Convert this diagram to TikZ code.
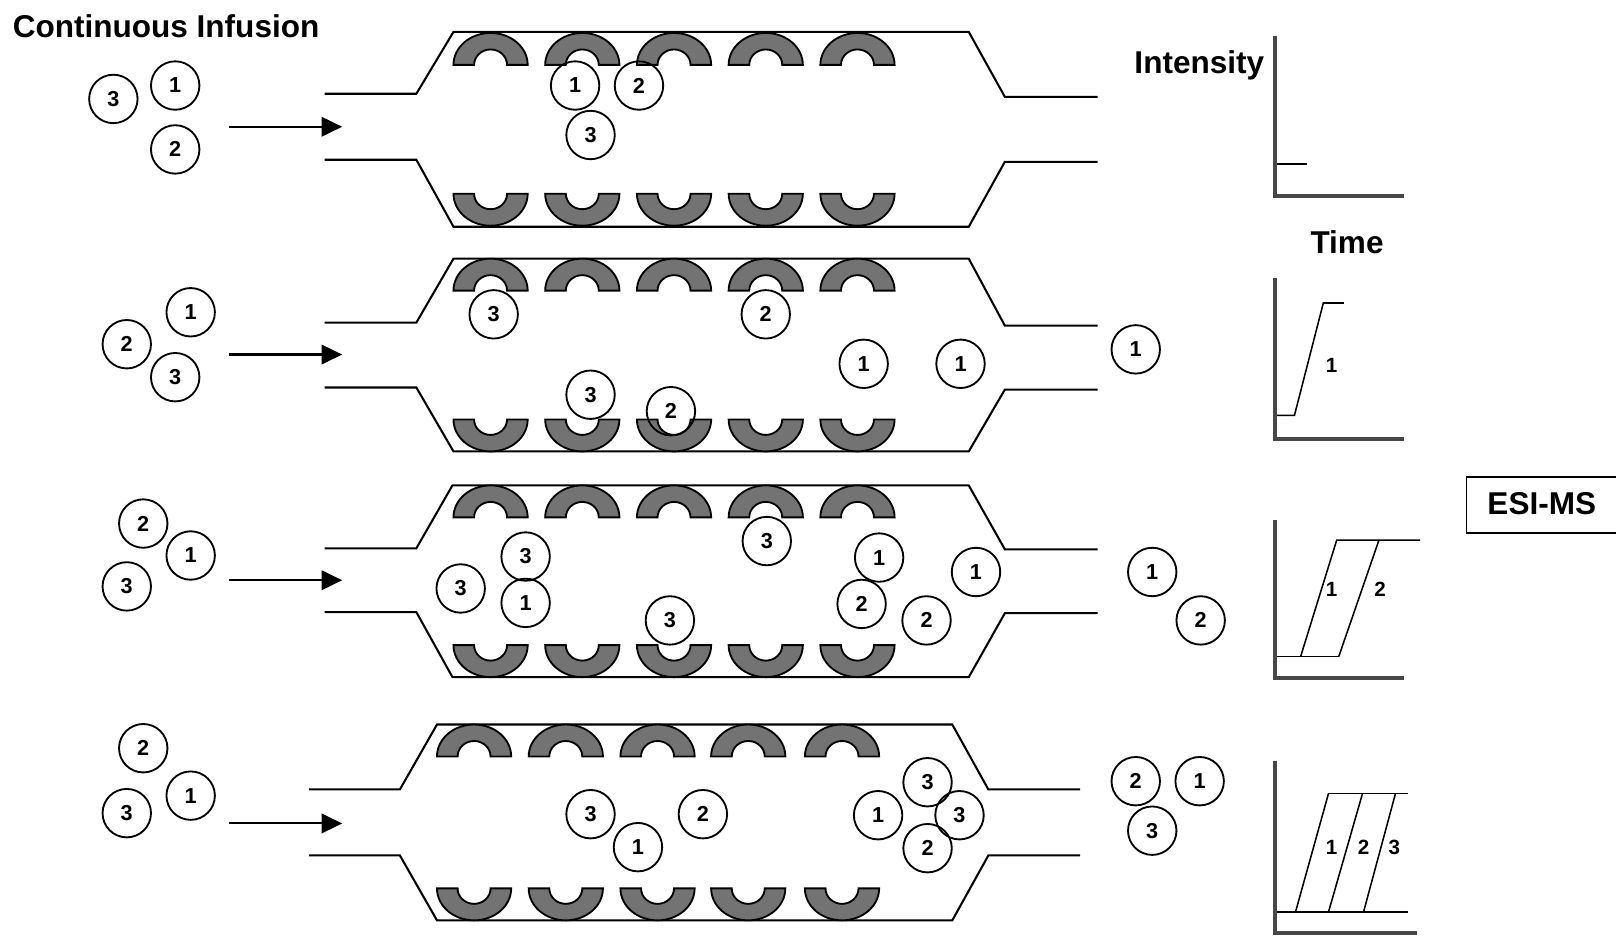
\documentclass[tikz,border=0pt]{standalone}
\usepackage{fontspec}
\setmainfont{Liberation Sans}
\usetikzlibrary{arrows.meta}
\tikzset{
  col/.style={line width=1pt, line join=miter},
  archstyle/.style={fill=black!55, draw=black, line width=0.9pt},
  mol/.style={circle, draw, line width=0.9pt, minimum size=23.5pt, inner sep=0pt,
    font=\fontsize{10.5}{11}\selectfont\bfseries},
  flow/.style={line width=1pt, -{Triangle[length=10pt,width=9.5pt]}},
  axisline/.style={line width=2pt, draw=black!72},
  trace/.style={line width=0.75pt},
  tlabel/.style={font=\fontsize{10}{11}\selectfont\bfseries, inner sep=0pt},
  biglabel/.style={font=\fontsize{15.3}{18}\selectfont\bfseries, inner sep=0pt}
}
\newcommand\myarchT[2]{\filldraw[archstyle] (#1-36,#2) arc[start angle=180,end angle=0,x radius=18pt,y radius=15.5pt] -- (#1+16,#2) arc[start angle=0,end angle=180,x radius=8pt,y radius=7.5pt] -- cycle;}
\newcommand\myarchB[2]{\filldraw[archstyle] (#1-36,#2) arc[start angle=180,end angle=360,x radius=18pt,y radius=15.5pt] -- (#1+16,#2) arc[start angle=0,end angle=-180,x radius=8pt,y radius=7.5pt] -- cycle;}
\begin{document}
\begin{tikzpicture}[x=0.5pt,y=-0.5pt]
\useasboundingbox (0,0) rectangle (1568,908);

% title
\node[biglabel, anchor=base west] (title) at (12,36) {Continuous Infusion};

% ---------- columns ----------
% row 1
\draw[col] (315,91) -- (404,91) -- (440,31) -- (940,31) -- (975,94) -- (1065,94);
\draw[col] (315,155) -- (404,155) -- (440,220) -- (940,220) -- (975,157) -- (1065,157);
% row 2
\draw[col] (315,313) -- (404,313) -- (440,251) -- (940,251) -- (975,316) -- (1065,316);
\draw[col] (315,376) -- (404,376) -- (440,438) -- (940,438) -- (975,378) -- (1065,378);
% row 3
\draw[col] (315,532) -- (404,532) -- (439,471) -- (940,471) -- (975,533) -- (1065,533);
\draw[col] (315,594) -- (404,594) -- (439,657) -- (940,657) -- (975,595) -- (1065,595);
% row 4
\draw[col] (300,766) -- (388,766) -- (424,703) -- (924,703) -- (959,766) -- (1048,766);
\draw[col] (300,830) -- (388,830) -- (424,893) -- (924,893) -- (959,830) -- (1048,830);

% ---------- arches ----------
\foreach \cx in {476,565,654,743,832}{
  \myarchT{\cx}{63}\myarchB{\cx}{188}
  \myarchT{\cx}{282}\myarchB{\cx}{407}
  \myarchT{\cx}{502}\myarchB{\cx}{626}
}
\foreach \cx in {460,549,638,726,817}{
  \myarchT{\cx}{734}\myarchB{\cx}{862}
}

% ---------- arrows ----------
\coordinate (a1s) at (222,123); \coordinate (a1e) at (332,123);
\coordinate (a2s) at (222,344); \coordinate (a2e) at (332,344);
\coordinate (a3s) at (222,563); \coordinate (a3e) at (332,563);
\coordinate (a4s) at (222,799); \coordinate (a4e) at (332,799);
\draw[flow] (a1s) -- (a1e);
\draw[flow] (a2s) -- (a2e);
\draw[flow] (a3s) -- (a3e);
\draw[flow] (a4s) -- (a4e);

% ---------- molecules ----------
% row 1
\node[mol] (r1l3) at (110,96) {3};
\node[mol] (r1l1) at (170,83) {1};
\node[mol] (r1l2) at (170,145) {2};
\node[mol] (r1c1) at (558,83) {1};
\node[mol] (r1c2) at (620,83) {2};
\node[mol] (r1c3) at (573,131) {3};
% row 2
\node[mol] (r2l1) at (185,303) {1};
\node[mol] (r2l2) at (123,334) {2};
\node[mol] (r2l3) at (170,366) {3};
\node[mol] (r2c3a) at (479,305) {3};
\node[mol] (r2c2a) at (743,305) {2};
\node[mol] (r2c1a) at (838,353) {1};
\node[mol] (r2c1b) at (932,353) {1};
\node[mol] (r2c3b) at (573,383) {3};
\node[mol] (r2c2b) at (651,399) {2};
\node[mol] (r2o1) at (1102,339) {1};
% row 3
\node[mol] (r3l2) at (139,508) {2};
\node[mol] (r3l1) at (185,539) {1};
\node[mol] (r3l3) at (123,569) {3};
\node[mol] (r3c3a) at (510,540) {3};
\node[mol] (r3c1a) at (510,585) {1};
\node[mol] (r3c3b) at (447,571) {3};
\node[mol] (r3c3c) at (744,525) {3};
\node[mol] (r3c3d) at (650,602) {3};
\node[mol] (r3c1b) at (853,541) {1};
\node[mol] (r3c2a) at (836,586) {2};
\node[mol] (r3c1c) at (947,555) {1};
\node[mol] (r3c2b) at (899,602) {2};
\node[mol] (r3o1) at (1118,555) {1};
\node[mol] (r3o2) at (1165,602) {2};
% row 4
\node[mol] (r4l2) at (139,726) {2};
\node[mol] (r4l1) at (185,772) {1};
\node[mol] (r4l3) at (123,789) {3};
\node[mol] (r4c3a) at (573,790) {3};
\node[mol] (r4c1a) at (619,822) {1};
\node[mol] (r4c2a) at (682,790) {2};
\node[mol] (r4c1b) at (852,791) {1};
\node[mol] (r4c3b) at (900,759) {3};
\node[mol] (r4c3c) at (931,791) {3};
\node[mol] (r4c2b) at (900,823) {2};
\node[mol] (r4o2) at (1102,758) {2};
\node[mol] (r4o1) at (1164,758) {1};
\node[mol] (r4o3) at (1118,806) {3};

% ---------- charts ----------
\node[biglabel, anchor=base east] (intens) at (1227,71) {Intensity};
\node[biglabel, anchor=base] (time) at (1307,246) {Time};
% chart 1
\draw[trace] (1237,159) -- (1268,159);
\draw[axisline] (1237,35) -- (1237,190) -- (1362,190);
% chart 2
\draw[trace] (1237,403) -- (1256,403) -- (1284,294) -- (1304,294);
\draw[axisline] (1237,270) -- (1237,426) -- (1362,426);
\node[tlabel] (c2l1) at (1292,355) {1};
% chart 3
\draw[trace] (1237,637) -- (1299,637);
\draw[trace] (1262,637) -- (1297,524) -- (1378,524);
\draw[trace] (1299,637) -- (1338,524);
\draw[axisline] (1237,505) -- (1237,658) -- (1362,658);
\node[tlabel] (c3l1) at (1292,572) {1};
\node[tlabel] (c3l2) at (1339,572) {2};
% chart 4
\draw[trace] (1237,885) -- (1366,885);
\draw[trace] (1289,770) -- (1366,770);
\draw[trace] (1257,885) -- (1289,770);
\draw[trace] (1289,885) -- (1322,770);
\draw[trace] (1323,885) -- (1354,770);
\draw[axisline] (1237,738) -- (1237,905) -- (1375,905);
\node[tlabel] (c4l1) at (1292,822) {1};
\node[tlabel] (c4l2) at (1323,822) {2};
\node[tlabel] (c4l3) at (1353,822) {3};

% ESI-MS box
\draw[line width=0.8pt] (1570,463) -- (1423,463) -- (1423,517) -- (1570,517);
\node[biglabel, anchor=base] (esims) at (1496,499) {ESI-MS};
\end{tikzpicture}
\end{document}
